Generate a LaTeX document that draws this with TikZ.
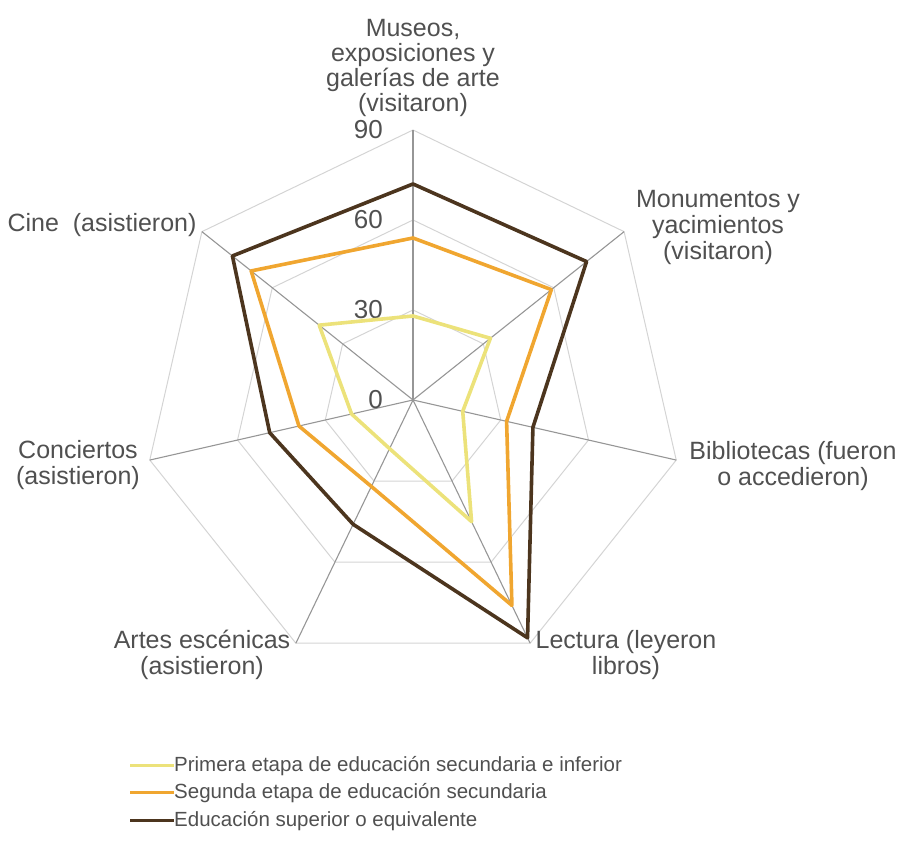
\documentclass[tikz,border=0pt]{standalone}
\usepackage{fontspec}
\setmainfont{Liberation Sans}
\usepackage{xcolor}
\definecolor{primera}{RGB}{236,226,122}
\definecolor{segunda}{RGB}{240,166,48}
\definecolor{superior}{RGB}{76,53,30}
\definecolor{texto}{RGB}{80,80,80}
\definecolor{radio}{RGB}{150,150,150}
\definecolor{anillo}{RGB}{212,212,212}
\tikzset{
  cat/.style={text=texto, font=\fontsize{25}{26}\selectfont, align=center, inner sep=0pt},
  tick/.style={text=texto, font=\fontsize{26}{26}\selectfont, inner sep=0pt, anchor=east},
  leyenda/.style={text=texto, font=\fontsize{20.5}{22}\selectfont, inner sep=0pt, anchor=west},
  serie/.style={line width=3.6pt, line join=round},
}

\begin{document}
\begin{tikzpicture}[x=30pt,y=30pt]
                \useasboundingbox (-13.767,-14.733) rectangle (16.233,13.333);
                % Rings and spokes
                \foreach \r in {3,6,9}
                    \draw[anillo, line width=1pt] (90:\r)
                        \foreach \k in {1,...,6}{ -- ({90-\k*360/7}:\r)} -- cycle;
                \foreach \k in {0,...,6}
                    \draw[radio, line width=1.1pt] (0,0) -- ({90-\k*360/7}:9);
                \foreach \t in {0,30,60,90}
                    \node[tick] (t\t) at (-1,\t/10) {\t};

                % Primera etapa
                \foreach \v [count=\i from 0] in {28,33,17,45,18,21,40}
                    \coordinate (a\i) at ({90-\i*360/7}:\v/10);
                \draw[primera, serie] (a0) -- (a1) -- (a2) -- (a3) -- (a4) -- (a5) -- (a6) -- cycle;
                % Segunda etapa
                \foreach \v [count=\i from 0] in {54,59,32,76,32,39,69}
                    \coordinate (b\i) at ({90-\i*360/7}:\v/10);
                \draw[segunda, serie] (b0) -- (b1) -- (b2) -- (b3) -- (b4) -- (b5) -- (b6) -- cycle;
                % Superior
                \foreach \v [count=\i from 0] in {72,74,41,88,46,49,77}
                    \coordinate (c\i) at ({90-\i*360/7}:\v/10);
                \draw[superior, serie] (c0) -- (c1) -- (c2) -- (c3) -- (c4) -- (c5) -- (c6) -- cycle;

                % Categories
                \node[cat, font=\fontsize{25}{25}\selectfont] (museos) at (0,11.05) {Museos,\\exposiciones y\\galerías de arte\\(visitaron)};
                \node[cat] (monumentos) at (10.167,5.75) {Monumentos y\\yacimientos\\(visitaron)};
                \node[cat] (bibliotecas) at (12.667,-2.2) {Bibliotecas (fueron\\o accedieron)};
                \node[cat] (lectura) at (7.1,-8.5) {Lectura (leyeron\\libros)};
                \node[cat] (artes) at (-7.033,-8.5) {Artes escénicas\\(asistieron)};
                \node[cat] (conciertos) at (-11.167,-2.167) {Conciertos\\(asistieron)};
                \node[cat] (cine) at (-10.367,5.833) {Cine~\ (asistieron)};

                % Legend
                \node[leyenda] (ley1) at (-7.967,-12.2) {Primera etapa de educación secundaria e inferior};
                \node[leyenda] (ley2) at (-7.967,-13.1) {Segunda etapa de educación secundaria};
                \node[leyenda] (ley3) at (-7.967,-14.033) {Educación superior o equivalente};
                \coordinate (m1) at (-9.433,-12.2);
                \coordinate (m2) at (-9.433,-13.1);
                \coordinate (m3) at (-9.433,-14.033);
                \draw[primera, line width=3pt] (m1) -- (ley1.west);
                \draw[segunda, line width=3pt] (m2) -- (ley2.west);
                \draw[superior, line width=3pt] (m3) -- (ley3.west);

            \end{tikzpicture}
\end{document}
